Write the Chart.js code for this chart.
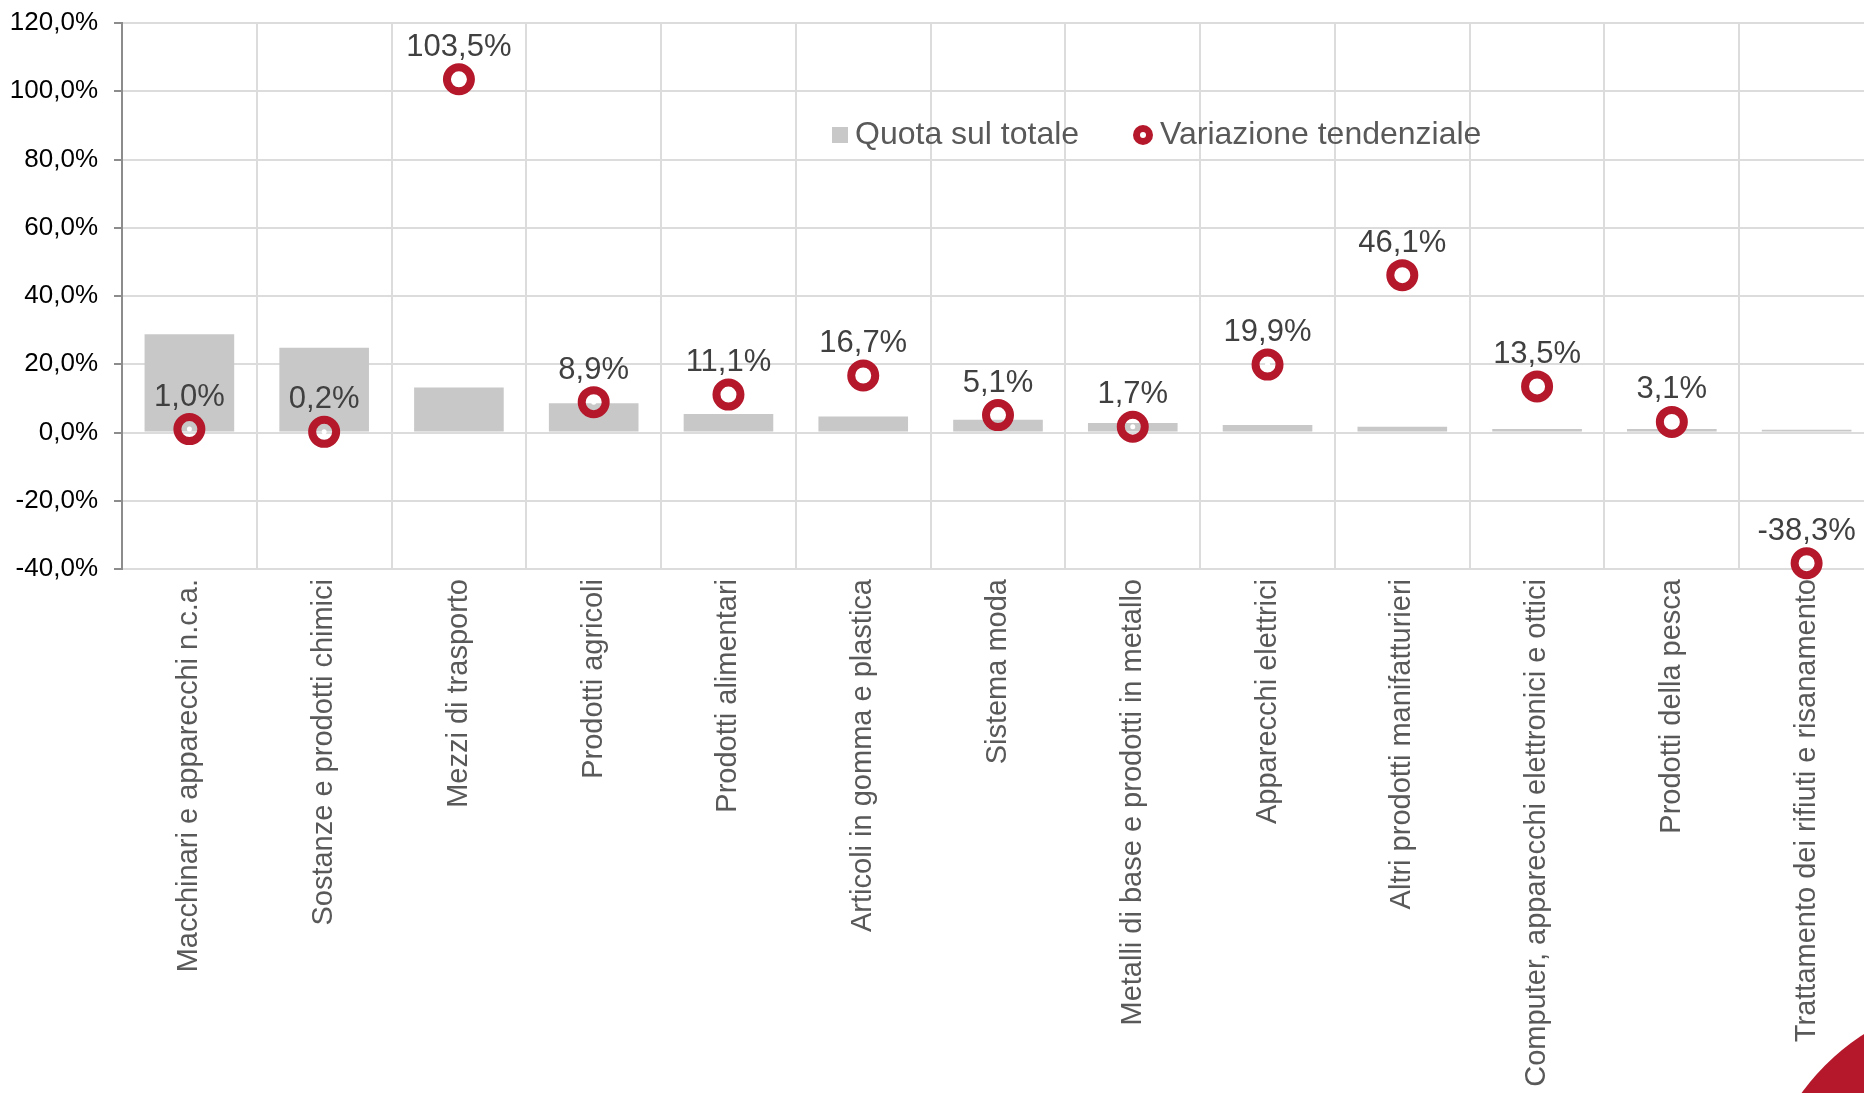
<!DOCTYPE html>
<html lang="it">
<head>
<meta charset="utf-8">
<title>Quota sul totale e variazione tendenziale</title>
<script src="https://cdn.jsdelivr.net/npm/chart.js@4.4.1/dist/chart.umd.min.js"></script>
<style>
    html, body { margin: 0; padding: 0; background: #fff; overflow: hidden; }
    #wrap { position: relative; width: 1894px; height: 1093px; }
    #angolo { position: absolute; left: 1757px; top: 997px; width: 466px; height: 466px; border-radius: 50%; background: #b5172b; }
</style>
</head>
<body>
<div id="wrap">
    <canvas id="grafico" width="1894" height="1093"></canvas>
</div>
<div id="angolo"></div>
<script>
// Dati del grafico
const categorie = [
    'Macchinari e apparecchi n.c.a.',
    'Sostanze e prodotti chimici',
    'Mezzi di trasporto',
    'Prodotti agricoli',
    'Prodotti alimentari',
    'Articoli in gomma e plastica',
    'Sistema moda',
    'Metalli di base e prodotti in metallo',
    'Apparecchi elettrici',
    'Altri prodotti manifatturieri',
    'Computer, apparecchi elettronici e ottici',
    'Prodotti della pesca',
    'Trattamento dei rifiuti e risanamento'
];
const quotaSulTotale = [28.8, 24.8, 13.2, 8.6, 5.4, 4.7, 3.7, 2.8, 2.2, 1.7, 1.0, 1.0, 0.8];
const variazioneTendenziale = [1.0, 0.2, 103.5, 8.9, 11.1, 16.7, 5.1, 1.7, 19.9, 46.1, 13.5, 3.1, -38.3];
const tickY = [-40, -20, 0, 20, 40, 60, 80, 100, 120];

const ROSSO = '#b5172b';
const GRIGIO = '#c8c8c8';
const FONT = '"Liberation Sans", Arial, sans-serif';

// Formato italiano: 103,5%
function formatta(v) {
    return v.toFixed(1).replace('.', ',') + '%';
}

// Puntino bianco al centro e etichette sopra i punti della variazione
const etichetteValori = {
    id: 'etichetteValori',
    afterDatasetsDraw(chart) {
        const ctx = chart.ctx;
        const meta = chart.getDatasetMeta(1);
        ctx.save();
        ctx.fillStyle = '#fff';
        meta.data.forEach(p => {
            ctx.beginPath();
            ctx.arc(p.x, p.y, 2.5, 0, Math.PI * 2);
            ctx.fill();
        });
        ctx.font = '31px ' + FONT;
        ctx.fillStyle = '#404040';
        ctx.textAlign = 'center';
        ctx.textBaseline = 'middle';
        meta.data.forEach((p, i) => {
            ctx.fillText(formatta(variazioneTendenziale[i]), p.x, p.y - 32);
        });
        ctx.restore();
    }
};

// Legenda dentro l'area del grafico
const legenda = {
    id: 'legenda',
    afterDatasetsDraw(chart) {
        const ctx = chart.ctx;
        const ds = chart.data.datasets;
        const y = 135;
        ctx.save();
        ctx.font = '32px ' + FONT;
        ctx.textBaseline = 'middle';

        ctx.fillStyle = ds[0].backgroundColor;
        ctx.fillRect(832, y - 8, 16, 16);
        ctx.fillStyle = '#595959';
        ctx.fillText(ds[0].label, 855, y);

        ctx.beginPath();
        ctx.arc(1143, y, 10, 0, Math.PI * 2);
        ctx.fillStyle = ds[1].pointBorderColor;
        ctx.fill();
        ctx.beginPath();
        ctx.arc(1143, y, 3, 0, Math.PI * 2);
        ctx.fillStyle = '#fff';
        ctx.fill();
        ctx.fillStyle = '#595959';
        ctx.fillText(ds[1].label, 1160, y);
        ctx.restore();
    }
};

Chart.defaults.font.family = FONT;

new Chart(document.getElementById('grafico'), {
    type: 'bar',
    data: {
        labels: categorie,
        datasets: [
            {
                type: 'bar',
                label: 'Quota sul totale',
                data: quotaSulTotale,
                backgroundColor: GRIGIO,
                categoryPercentage: 1,
                barPercentage: 0.665,
                order: 2
            },
            {
                type: 'line',
                label: 'Variazione tendenziale',
                data: variazioneTendenziale,
                showLine: false,
                pointRadius: 12,
                pointHoverRadius: 12,
                pointBorderWidth: 8,
                pointBorderColor: ROSSO,
                pointBackgroundColor: 'rgba(0,0,0,0)',
                clip: false,
                order: 1
            }
        ]
    },
    options: {
        responsive: false,
        animation: false,
        layout: { padding: { top: 23, left: 0, right: 0, bottom: 0 } },
        plugins: {
            legend: { display: false },
            tooltip: { enabled: false }
        },
        scales: {
            x: {
                grid: { offset: true, color: '#dcdcdc', lineWidth: 2, drawTicks: false },
                border: { color: '#dcdcdc', width: 2 },
                ticks: {
                    color: '#595959',
                    font: { size: 29 },
                    minRotation: 90,
                    maxRotation: 90,
                    autoSkip: false,
                    padding: 10
                },
                afterFit: s => { s.height = 524; }
            },
            y: {
                min: -40,
                max: 120,
                grid: { color: '#dcdcdc', lineWidth: 2, tickColor: '#8c8c8c', tickLength: 8 },
                border: { color: '#8c8c8c', width: 2 },
                ticks: {
                    color: '#000',
                    font: { size: 26 },
                    padding: 16,
                    callback: v => formatta(v)
                },
                afterBuildTicks: s => { s.ticks = tickY.map(v => ({ value: v })); },
                afterFit: s => {
                    s.width = 122;
                    s.paddingTop = 0;
                    s.paddingBottom = 0;
                }
            }
        }
    },
    plugins: [etichetteValori, legenda]
});
</script>
</body>
</html>
